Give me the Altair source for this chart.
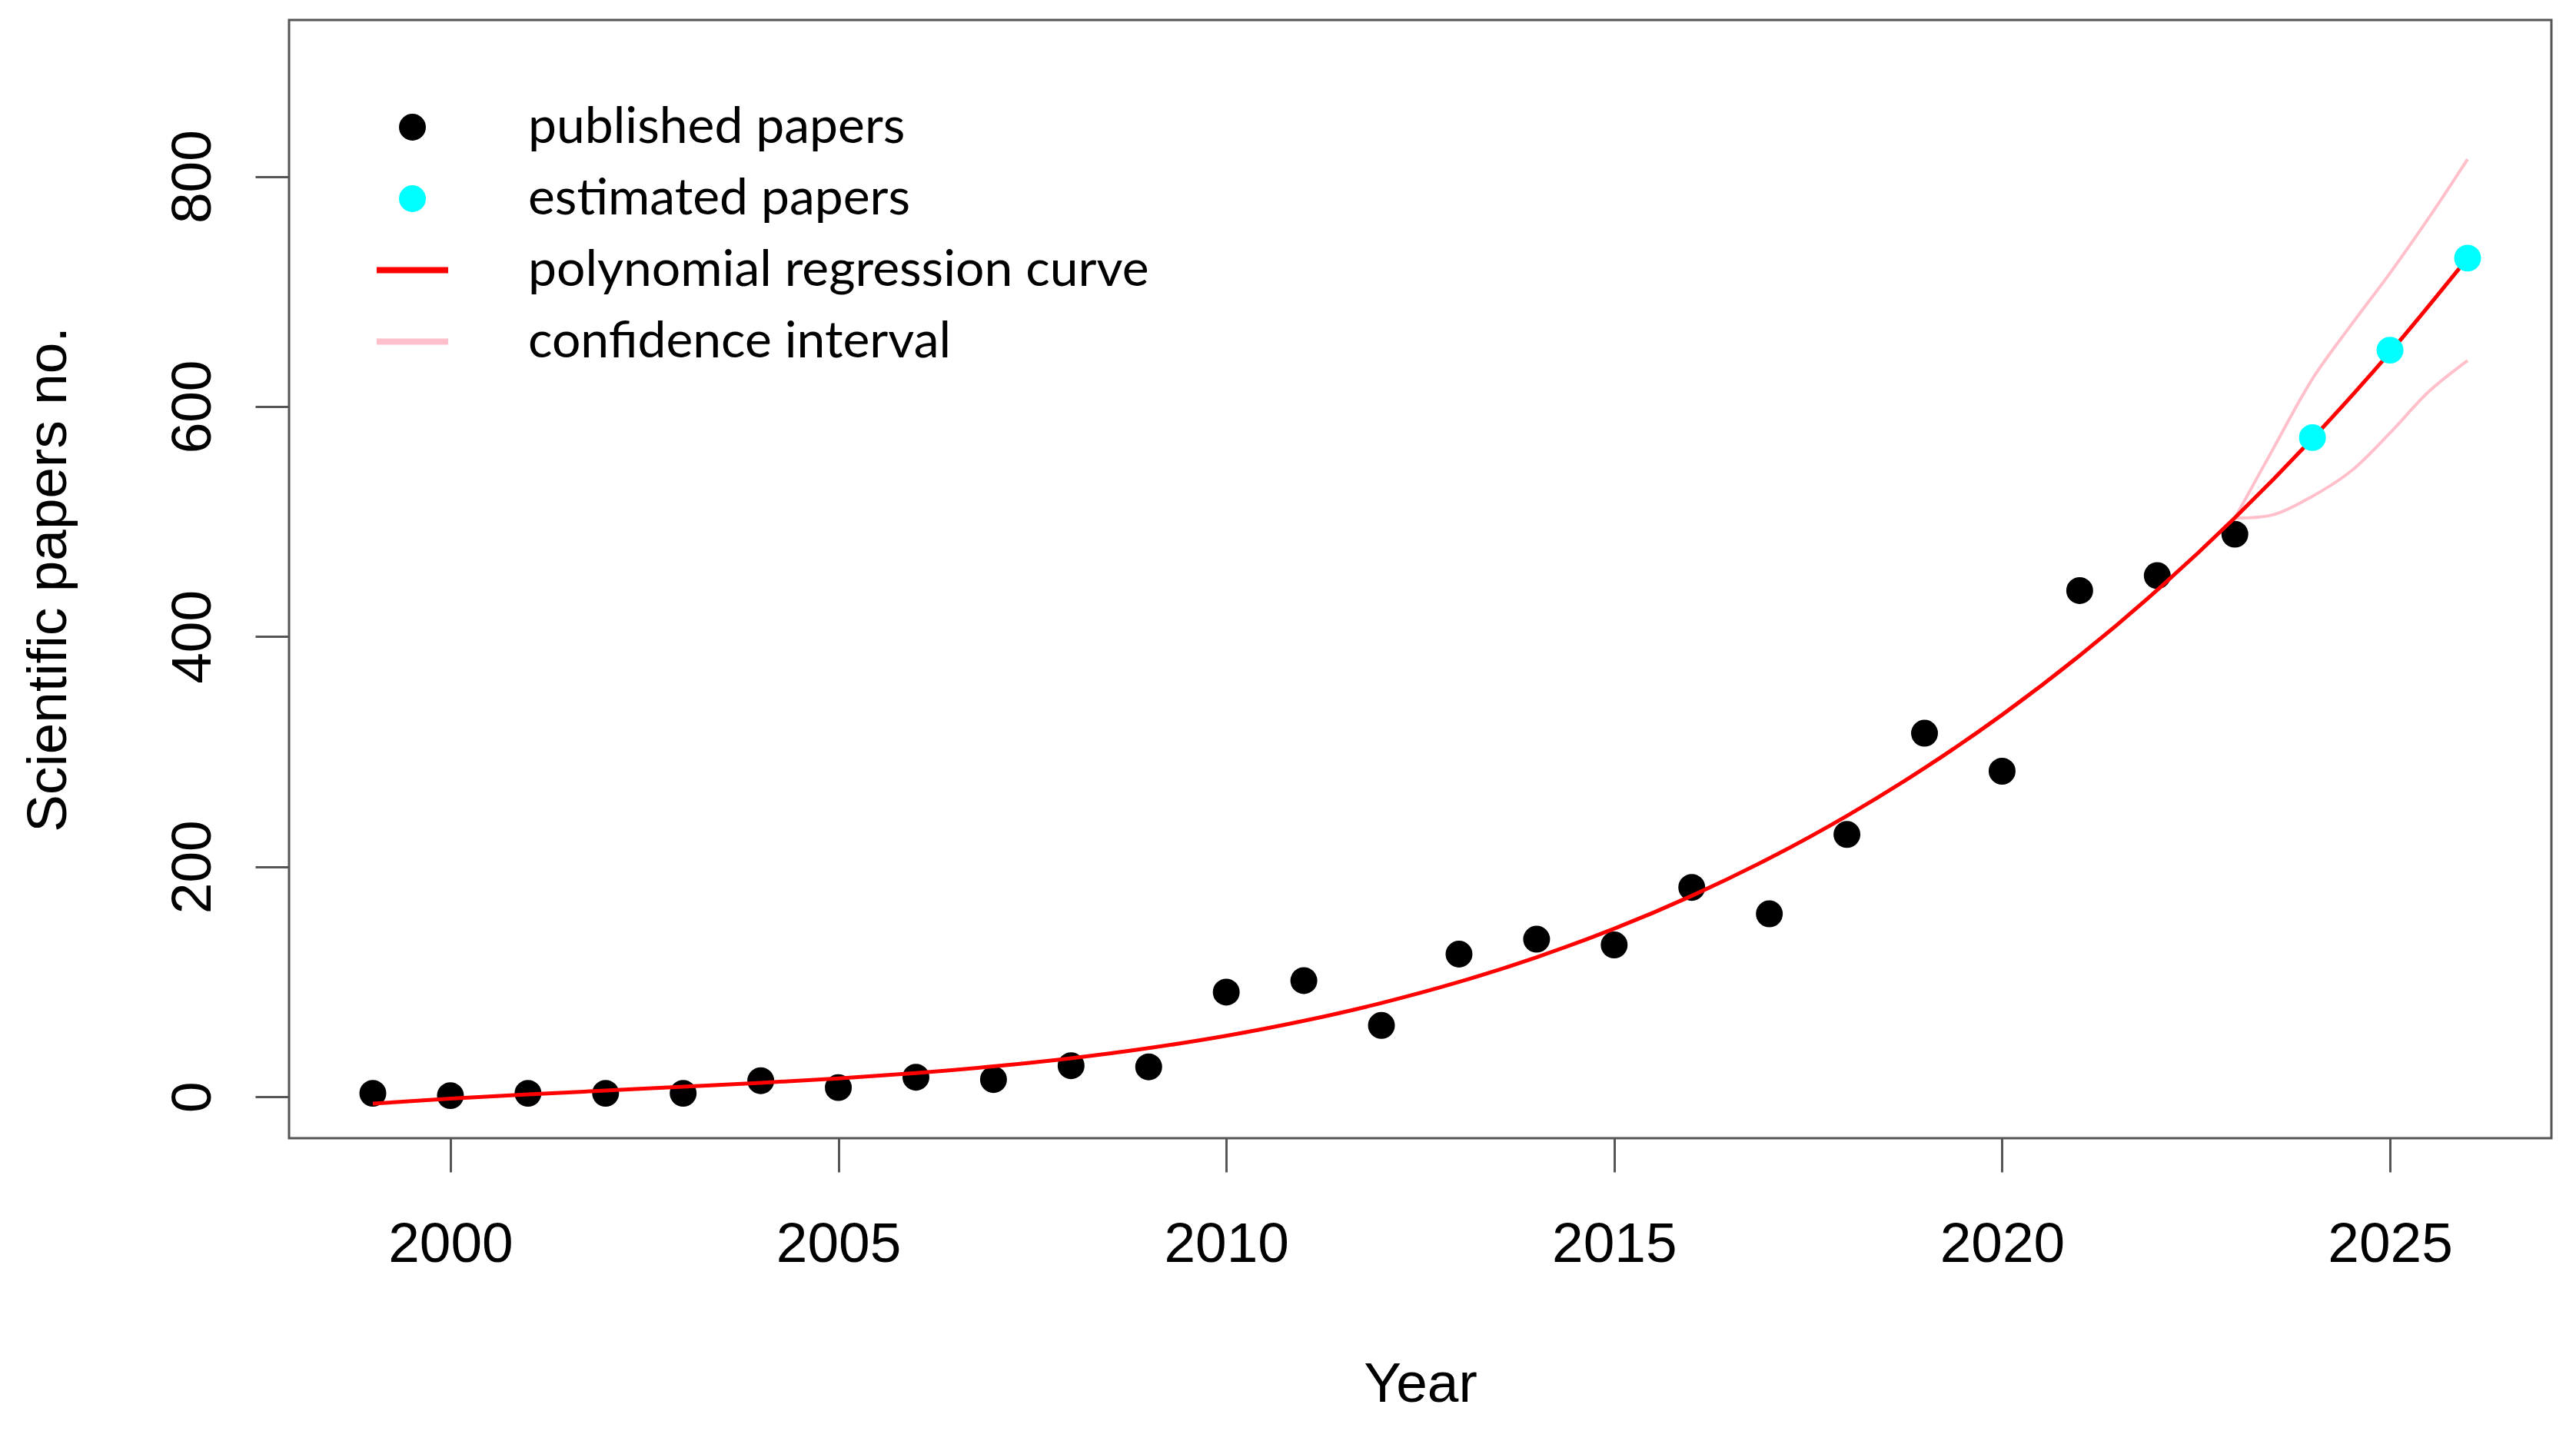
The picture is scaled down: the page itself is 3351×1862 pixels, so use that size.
import altair as alt
import pandas as pd

# ---- data ----
pub_years = list(range(1999, 2024))
pub_papers = [3, 1, 3, 3, 3, 14, 8, 17, 15, 27, 26, 91, 101, 62, 124, 137, 132,
              182, 159, 228, 316, 283, 440, 453, 489]

est_years = [2024, 2025, 2026]
est_papers = [573, 649, 729]

curve_years = list(range(1999, 2027))
curve_values = [-6, -1.6, 2.1, 5.4, 8.7, 12.1, 16, 20.6, 26.4, 33.5, 42.3, 53, 66,
                81.5, 99.8, 121.3, 146.1, 174.7, 207.3, 244.2, 285.7, 332, 383.5,
                440.5, 503.3, 572.1, 647.2, 729]

ci_years = [2023, 2023.5, 2024, 2024.5, 2025, 2025.5, 2026]
ci_upper = [503, 564, 624, 671, 716, 764, 815]
ci_lower = [503, 506, 522, 544, 577, 613, 640]

series_names = ["published papers", "estimated papers",
                "polynomial regression curve", "confidence interval"]
series_colors = ["black", "cyan", "red", "pink"]
DOT = "M0.29,0A0.29,0.29,0,1,1,-0.29,0A0.29,0.29,0,1,1,0.29,0Z"
series_shapes = [DOT, DOT, "stroke", "stroke"]

x_ticks = [2000, 2005, 2010, 2015, 2020, 2025]
y_ticks = [0, 200, 400, 600, 800]

# ---- tables ----
pub_df = pd.DataFrame({"year": pub_years, "value": pub_papers, "series": series_names[0]})
est_df = pd.DataFrame({"year": est_years, "value": est_papers, "series": series_names[1]})
curve_df = pd.DataFrame({"year": curve_years, "value": curve_values, "series": series_names[2]})
ci_df = pd.concat([
    pd.DataFrame({"year": ci_years, "value": ci_upper, "bound": "upper", "series": series_names[3]}),
    pd.DataFrame({"year": ci_years, "value": ci_lower, "bound": "lower", "series": series_names[3]}),
])

AX_FONT = "Liberation Sans"
SYM = 8649

x_enc = alt.X("year:Q",
              scale=alt.Scale(domain=[1997.92, 2027.08], nice=False, zero=False),
              axis=alt.Axis(values=x_ticks, format="d", grid=False, domain=False,
                            tickSize=44, tickWidth=3, tickColor="#555555",
                            labelFont=AX_FONT, labelFontSize=73, labelColor="black",
                            labelPadding=58, labelFlush=False, labelOverlap=False,
                            title="Year", titleFont=AX_FONT, titleFontSize=73,
                            titleFontWeight="normal", titleColor="black",
                            titleX=1471.5, titleY=342, titleBaseline="alphabetic",
                            titleAlign="center"))
y_enc = alt.Y("value:Q",
              scale=alt.Scale(domain=[-36, 936], nice=False, zero=False),
              axis=alt.Axis(values=y_ticks, grid=False, domain=False,
                            tickSize=44, tickWidth=3, tickColor="#555555",
                            labelFont=AX_FONT, labelFontSize=73, labelColor="black",
                            labelAngle=270, labelAlign="center", labelBaseline="alphabetic",
                            labelPadding=59, labelFlush=False, labelOverlap=False,
                            title="Scientific papers no.", titleFont=AX_FONT,
                            titleFontSize=73, titleFontWeight="normal", titleColor="black",
                            titleAngle=270, titleX=-291, titleY=727.5,
                            titleBaseline="alphabetic", titleAlign="center"))

legend = alt.Legend(
    title=None, orient="none", legendX=110, legendY=89, padding=0,
    labelFont="Lato", labelFontSize=66, labelColor="black", labelOffset=100,
    symbolSize=SYM, symbolStrokeWidth=8, symbolOpacity=1, rowPadding=9, labelLimit=2000,
)

fill_enc = alt.Fill("series:N", scale=alt.Scale(domain=series_names, range=series_colors),
                    legend=legend)
stroke_enc = alt.Stroke("series:N", scale=alt.Scale(domain=series_names, range=series_colors),
                        legend=legend)
shape_enc = alt.Shape("series:N", scale=alt.Scale(domain=series_names, range=series_shapes),
                      legend=legend)

pub_layer = alt.Chart(pub_df).mark_point(filled=True, opacity=1, strokeWidth=8, size=SYM).encode(
    x=x_enc, y=y_enc, fill=fill_enc, stroke=stroke_enc, shape=shape_enc)
ci_layer = alt.Chart(ci_df).mark_line(strokeWidth=4, interpolate="catmull-rom").encode(
    x=x_enc, y=y_enc, stroke=stroke_enc, detail="bound:N")
curve_layer = alt.Chart(curve_df).mark_line(strokeWidth=5, interpolate="monotone").encode(
    x=x_enc, y=y_enc, stroke=stroke_enc)
est_layer = alt.Chart(est_df).mark_point(filled=True, opacity=1, strokeWidth=8, size=SYM).encode(
    x=x_enc, y=y_enc, fill=fill_enc, stroke=stroke_enc, shape=shape_enc)

chart = alt.layer(pub_layer, ci_layer, curve_layer, est_layer).properties(
    width=2943, height=1455,
    autosize=alt.AutoSizeParams(type="none"),
    padding={"left": 368, "top": 18, "right": 24, "bottom": 372},
    background="white",
).configure_view(stroke="#555555", strokeWidth=3)

chart.save("out.html", embed_options={"renderer": "svg", "actions": False})
